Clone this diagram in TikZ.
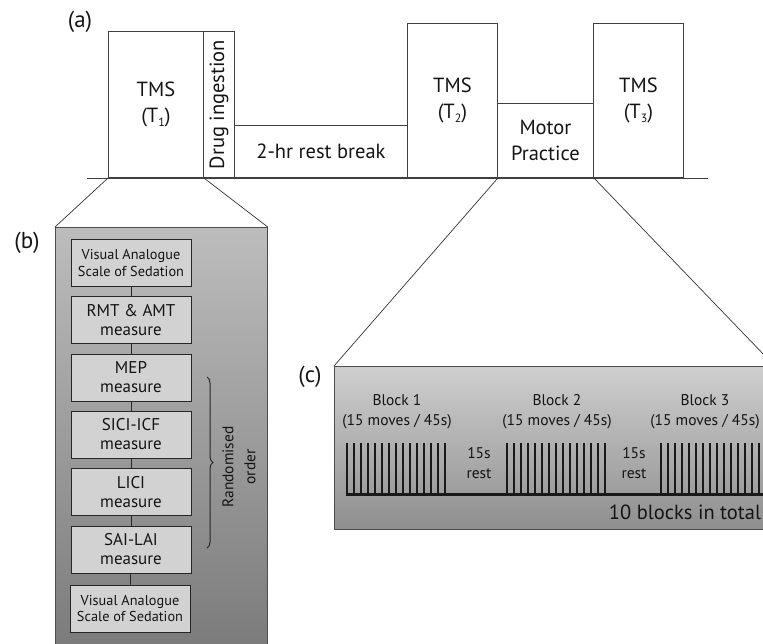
\documentclass[tikz,border=0pt]{standalone}
\usepackage{fontspec}
\setmainfont{PT Sans}
\usetikzlibrary{decorations.pathreplacing}
\begin{document}
\begin{tikzpicture}[x=1pt,y=-1pt,
  font=\fontsize{20.5}{26}\selectfont, text=black!92,
  bar/.style={draw=black!75, line width=0.9pt, fill=white, inner sep=0pt, anchor=south west, align=center},
  panel/.style={draw=black!70, line width=0.7pt, inner sep=0pt, anchor=north west},
  measbox/.style={draw=black!85, line width=0.9pt, fill=gray!35, inner sep=0pt, minimum width=120, minimum height=47, align=center, font=\fontsize{17}{19}\selectfont},
  vasbox/.style={measbox, font=\fontsize{14.3}{16.5}\selectfont},
  link/.style={draw=black!85, line width=0.7pt},
  zoomline/.style={draw=black!80, line width=0.7pt},
  tick/.style={line width=1.4pt, black!90},
  small/.style={align=center, font=\fontsize{15.5}{20}\selectfont},
  tag/.style={font=\fontsize{23}{24}\selectfont}]
\useasboundingbox (0,0) rectangle (763,643);
% panels behind the timeline
\node[panel, minimum width=212, minimum height=425, top color=black!26, bottom color=black!52] (panelB) at (55,227) {};
\node[panel, minimum width=440, minimum height=163, top color=black!19, bottom color=black!44] (panelC) at (334,366) {};
% timeline (a)
\node[tag] (tagA) at (80,22) {(a)};
\coordinate (tl0) at (87,178);
\coordinate (tl1) at (708,178);
\draw[line width=0.9pt, black!75] (tl0) -- (tl1);
\node[bar, minimum width=95, minimum height=146] (tms1) at (108,178) {TMS\\(T\raisebox{-4pt}{\fontsize{12}{12}\selectfont 1})};
\node[bar, minimum width=31, minimum height=146] (drug) at (203,178) {};
\node[rotate=90] (druglab) at (drug.center) {Drug ingestion};
\node[bar, minimum width=173, minimum height=52] (rest) at (234,178) {\raisebox{-5pt}{2-hr rest break}};
\node[bar, minimum width=90, minimum height=154] (tms2) at (407,178) {TMS\\(T\raisebox{-4pt}{\fontsize{12}{12}\selectfont 2})};
\node[bar, minimum width=96, minimum height=74] (motor) at (497,178) {Motor\\Practice};
\node[bar, minimum width=90, minimum height=154] (tms3) at (593,178) {TMS\\(T\raisebox{-4pt}{\fontsize{12}{12}\selectfont 3})};
% zoom lines
\draw[zoomline] (tms1.south west) -- (panelB.north west);
\draw[zoomline] (tms1.south east) -- (panelB.north east);
\draw[zoomline] (tms2.south east) -- (panelC.north west);
\draw[zoomline] (motor.south east) -- (panelC.north east);
% panel (b)
\node[tag] (tagB) at (27,243) {(b)};
\node[vasbox] (vas1) at (131,263) {Visual Analogue\\Scale of Sedation};
\node[measbox] (rmt) at (131,320) {RMT \& AMT\\measure};
\node[measbox] (mep) at (131,377.5) {MEP\\measure};
\node[measbox] (sici) at (131,434.5) {SICI-ICF\\measure};
\node[measbox] (lici) at (131,492) {LICI\\measure};
\node[measbox] (sai) at (131,549.5) {SAI-LAI\\measure};
\node[vasbox] (vas2) at (130,608.5) {Visual Analogue\\Scale of Sedation};
\draw[link] (vas1) -- (rmt);
\draw[link] (rmt) -- (mep);
\draw[link] (mep) -- (sici);
\draw[link] (sici) -- (lici);
\draw[link] (lici) -- (sai);
\draw[link] (sai) -- (vas2);
\draw[line width=1pt, black!85, decoration={brace, amplitude=6pt}, decorate] (207,377) -- (207,548);
\node[rotate=90, align=center, font=\fontsize{15.5}{22}\selectfont] (rand) at (239,467) {Randomised\\order};
% panel (c)
\node[tag] (tagC) at (310,377) {(c)};
\draw[line width=3pt, black!90] (346,494) -- (775,494);
\foreach \bx in {347,507,661}
  \foreach \i in {0,...,14}
    \draw[tick] (\bx+7*\i,443) -- (\bx+7*\i,494);
\node[small] (blk1) at (397,412) {Block 1\\(15 moves / 45s)};
\node[small] (blk2) at (557,412) {Block 2\\(15 moves / 45s)};
\node[small] (blk3) at (705,412) {Block 3\\(15 moves / 45s)};
\node[small] (rest1) at (479,463) {15s\\rest};
\node[small] (rest2) at (634,463) {15s\\rest};
\node[font=\fontsize{20.5}{24}\selectfont] (total) at (685,512) {10 blocks in total};
\end{tikzpicture}
\end{document}
